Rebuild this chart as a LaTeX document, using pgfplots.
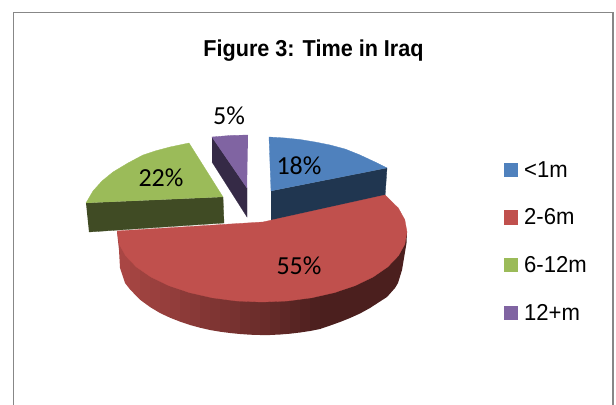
\documentclass[border=0pt]{standalone}
\usepackage{pgfplots}
\pgfplotsset{compat=1.18}
\usepackage{fontspec}
\setmainfont{Liberation Sans}
\newfontfamily\narrowfont[FakeStretch=0.96]{Liberation Sans}
\newfontfamily\titlefont[FakeStretch=0.94]{Liberation Sans}
\newfontfamily\calibri{Carlito}
\definecolor{cblue}{HTML}{4F81BD}
\definecolor{cred}{HTML}{C0504D}
\definecolor{cgreen}{HTML}{9BBB59}
\definecolor{cpurple}{HTML}{8064A2}
\definecolor{dblue}{HTML}{203650}
\definecolor{dgreen}{HTML}{404B24}
\definecolor{dpurple}{HTML}{352A46}
% one band of the red rim: #1 shade, #2 x1, #3 x2, #4 lower y at x1, #5 lower y at x2
\newcommand{\strip}[5]{\addplot[forget plot,fill={cred!#1!black},draw=none] coordinates {(#2,232) (#3+1,232) (#3+1,#5-1.5) (#3,#5) (#2,#4)};}
\begin{document}
\begin{tikzpicture}
\begin{axis}[
  scale only axis, width=616bp, height=405bp,
  xmin=0, xmax=616, ymin=0, ymax=405, y dir=reverse,
  hide axis, clip=true,
  area legend,
  legend cell align=left,
  legend image code/.code={\fill[#1,draw=none] (0bp,-7bp) rectangle (14.2bp,7.2bp);\path (20bp,0bp);},
  legend style={at={(0.8182,0.601)},anchor=north west,draw=none,fill=none,inner sep=0pt,outer sep=0pt,
    font=\narrowfont\fontsize{23bp}{25bp}\selectfont,row sep=30bp,
    nodes={inner sep=0pt,outer sep=0pt}},
]
\path (axis cs:0,0) (axis cs:616,405);
% frame
\addplot[forget plot,draw=black!47,line width=1.6bp] coordinates {(13.5,406) (13.5,12.5) (613,12.5) (613,406)};
% sides
\addplot[forget plot,fill=dblue,draw=dblue,line width=0.3pt] coordinates {(271,191) (387,168) (385,197) (271,221)};
\addplot[forget plot,fill=dgreen,draw=dgreen,line width=0.3pt] coordinates {(86,203) (223,197) (224,223) (89,232)};
\addplot[forget plot,fill=dpurple,draw=dpurple,line width=0.3pt] coordinates {(212,137) (247,188) (247,217) (212,162)};
% red rim strips
\addplot[forget plot,fill={cred!88!black},draw=none] coordinates {(117,232) (131,232) (131,289) (130,289.4) (125,283) (122,274) (120,268) (119,250)};
\strip{85}{130}{140}{289.4}{299.7}
\strip{82}{140}{150}{299.7}{307}
\strip{80}{150}{160}{307}{313}
\strip{78}{160}{170}{313}{317.7}
\strip{76}{170}{180}{317.7}{321.6}
\strip{73}{180}{190}{321.6}{325}
\strip{71}{190}{200}{325}{327.7}
\strip{68}{200}{210}{327.7}{330}
\strip{66}{210}{220}{330}{331.7}
\strip{64}{220}{230}{331.7}{333}
\strip{62}{230}{240}{333}{334}
\strip{59}{240}{250}{334}{334.7}
\strip{57}{250}{260}{334.7}{335}
\strip{55}{260}{270}{335}{335}
\strip{52}{270}{280}{335}{334.5}
\strip{49}{280}{290}{334.5}{333.7}
\strip{46}{290}{300}{333.7}{332.5}
\strip{43}{300}{310}{332.5}{331}
\strip{40}{310}{320}{331}{329}
\addplot[forget plot,fill={cred!39!black},draw=none] coordinates {(320,232) (407,232) (406.5,243) (405,252) (402,270) (398,283) (395,288) (387,297) (380,301.5) (370,308) (360,313.5) (350,318) (340,322) (330,325.6) (320,329)};
% tops
\addplot[fill=cblue,draw=cblue,line width=0.3pt] coordinates {(271,191) (269,137) (285,138) (300,139.5) (315,142) (330,145) (345,149) (360,155) (375,162) (387,168)};
\addlegendentry{<1m}
\addplot[fill=cred,draw=cred,line width=0.3pt] coordinates {(117,231) (263,222) (385,195) (398.3,208) (404.8,219.8) (407,232) (404.8,244.2) (398.3,255.9) (387.6,267) (373.1,277) (355.2,285.6) (334.5,292.6) (311.6,297.8) (287.2,301) (262,302) (236.8,301) (212.4,297.8) (189.5,292.6) (168.8,285.6) (150.9,277) (136.4,267) (125.7,255.9) (119.2,244.2)};
\addlegendentry{2-6m}
\addplot[fill=cgreen,draw=cgreen,line width=0.3pt] coordinates {(223,197) (189,143) (170,147) (155,151) (143,155) (128,163) (113,172) (102,181) (93,191) (86,203)};
\addlegendentry{6-12m}
\addplot[fill=cpurple,draw=cpurple,line width=0.3pt] coordinates {(247,188) (212,137) (230,135.5) (248,135)};
\addlegendentry{12+m}
% labels
\node[anchor=base,font=\titlefont\bfseries\fontsize{23bp}{25bp}\selectfont] at (axis cs:313.5,56.5) {Figure 3: Time in Iraq};
\node[font=\calibri\fontsize{26bp}{28bp}\selectfont] at (axis cs:299,166) {18\%};
\node[font=\calibri\fontsize{26bp}{28bp}\selectfont] at (axis cs:161,178) {22\%};
\node[font=\calibri\fontsize{26bp}{28bp}\selectfont] at (axis cs:299,266) {55\%};
\node[font=\calibri\fontsize{26bp}{28bp}\selectfont] at (axis cs:229,116) {5\%};
\end{axis}
\end{tikzpicture}
\end{document}
